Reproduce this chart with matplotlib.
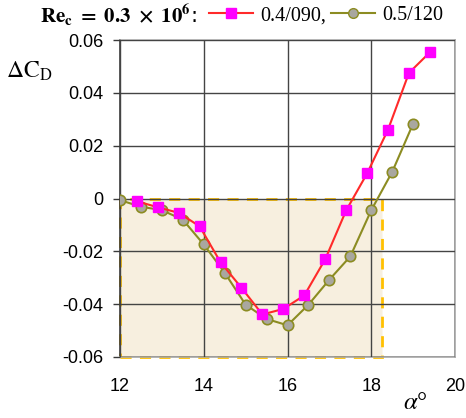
import numpy as np
import matplotlib.pyplot as plt
from matplotlib.lines import Line2D
from matplotlib.patches import Rectangle

plt.rcParams['mathtext.fontset'] = 'stix'

# data
alpha_a = [12.4, 12.9, 13.4, 13.9, 14.4, 14.9, 15.4, 15.9, 16.4, 16.9, 17.4, 17.9, 18.4, 18.9, 19.4]
dcd_a = [-0.001, -0.0033, -0.0054, -0.0105, -0.0241, -0.0338, -0.0439, -0.0418, -0.0367, -0.023,
         -0.0045, 0.0095, 0.0261, 0.0476, 0.0554]
alpha_b = [12.0, 12.5, 13.0, 13.5, 14.0, 14.5, 15.0, 15.5, 16.0, 16.5, 17.0, 17.5, 18.0, 18.5, 19.0]
dcd_b = [-0.0006, -0.0031, -0.0044, -0.008, -0.0174, -0.0281, -0.0402, -0.0456, -0.048, -0.0402,
         -0.0307, -0.0219, -0.0044, 0.0101, 0.0284]
label_a = '0.4/090,'
label_b = '0.5/120'
xticks = [12, 14, 16, 18, 20]
yticks = [-0.06, -0.04, -0.02, 0, 0.02, 0.04, 0.06]
ytick_labels = ['-0.06', '-0.04', '-0.02', '0', '0.02', '0.04', '0.06']
box_x = (12, 18.25)
box_y = (-0.06, 0)

fig = plt.figure(figsize=(4.66, 4.18), dpi=100)
ax = fig.add_axes([0.2575, 0.146, 0.719, 0.758])

# shaded region
ax.add_patch(Rectangle((box_x[0], box_y[0]), box_x[1] - box_x[0], box_y[1] - box_y[0],
                       facecolor='#F7EFDF', edgecolor='#FFC000', linestyle=(0, (4, 3)),
                       linewidth=2, zorder=1, clip_on=False))

ax.plot(alpha_a, dcd_a, color='#FF2A2A', lw=1.5, marker='s', ms=7,
        mfc='#FF00FF', mec='#FF00FF', zorder=4)
ax.plot(alpha_b, dcd_b, color='#8C8C22', lw=1.5, marker='o', ms=7.5,
        mfc='#A9A79F', mec='#8C8C22', mew=1.2, zorder=3)

ax.set_xlim(12, 20)
ax.set_ylim(-0.06, 0.06)
ax.set_xticks(xticks)
ax.set_yticks(yticks)
ax.set_yticklabels(ytick_labels)
ax.grid(True, color='#444444', lw=1, zorder=2)
ax.set_axisbelow(False)
for t in ax.get_xticklabels() + ax.get_yticklabels():
    t.set_fontfamily('Liberation Sans')
    t.set_fontsize(13)
ax.tick_params(axis='x', length=0, pad=15)
ax.tick_params(axis='y', length=5, width=1, color='#3A3A3A', pad=7)

ax.spines['left'].set_color('#3A3A3A')
for s in ['top', 'right', 'bottom']:
    ax.spines[s].set_color('#A8A8A8')
for s in ax.spines.values():
    s.set_linewidth(1.2)

fig.text(0.013, 0.815, r'$\Delta\mathrm{C}_\mathrm{D}$', fontsize=17)
fig.text(0.865, 0.022, r'$\alpha$°', fontsize=18, family='Liberation Serif')

fig.text(0.085, 0.962, r'$\mathbf{Re_c\ =\ 0.3\ \times\ 10^6}$:', fontsize=15, va='center')
handles = [Line2D([], [], color='#FF2A2A', lw=1.5, marker='s', ms=7, mfc='#FF00FF', mec='#FF00FF'),
           Line2D([], [], color='#8C8C22', lw=1.5, marker='o', ms=7, mfc='#A9A79F', mec='#8C8C22')]
fig.legend(handles, [label_a, label_b], loc='center left', bbox_to_anchor=(0.448, 0.962),
           ncol=2, frameon=False, handlelength=2.2, handletextpad=0.35, columnspacing=0.25,
           borderaxespad=0, borderpad=0, prop={'family': 'Liberation Serif', 'size': 14.5})

fig.savefig('out.png', dpi=100)
